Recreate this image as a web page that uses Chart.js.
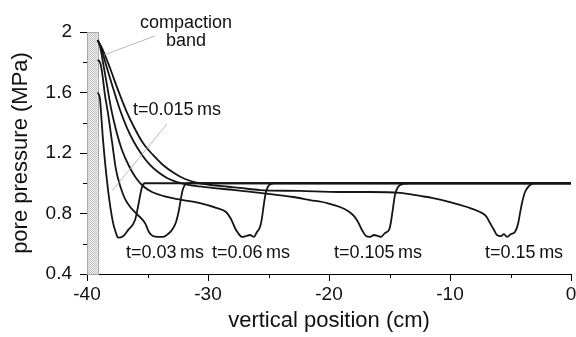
<!DOCTYPE html>
<html>
<head>
<meta charset="utf-8">
<script src="https://cdn.jsdelivr.net/npm/chart.js@4.4.1/dist/chart.umd.min.js"></script>
<style>
  html, body { margin: 0; padding: 0; background: #fff; }
  #chart { display: block; }
</style>
</head>
<body>
<canvas id="chart" width="576" height="337"></canvas>
<script>
// pore pressure profiles, [vertical position (cm), pressure (MPa)]
const t015 = [[-39.12,1.60],[-38.93,1.56],[-38.79,1.41],[-38.68,1.29],[-38.26,0.955],[-37.85,0.74],
    [-37.60,0.67],[-37.44,0.64],[-37.02,0.65],[-36.61,0.69],[-36.03,0.757],[-35.79,0.843],
    [-35.45,0.975],[-35.21,1.0],[-34.79,1.0],[0,1.0]];
const t030 = [[-39.12,1.815],[-38.93,1.80],[-38.76,1.736],[-38.51,1.58],[-38.26,1.46],[-37.93,1.273],
    [-37.60,1.088],[-37.27,0.985],[-36.86,0.896],[-36.36,0.836],[-35.79,0.79],[-35.21,0.737],
    [-34.88,0.678],[-34.55,0.651],[-34.13,0.645],[-33.72,0.645],[-33.31,0.664],[-32.98,0.691],
    [-32.64,0.744],[-32.40,0.823],[-32.23,0.902],[-32.07,0.962],[-31.82,0.995],[-31.49,1.0],[0,1.0]];
const t060 = [[-39.12,1.947],[-38.93,1.907],[-38.68,1.80],[-38.35,1.65],[-38.02,1.498],[-37.60,1.352],
    [-37.11,1.22],[-36.53,1.114],[-35.95,1.035],[-35.37,0.982],[-34.63,0.942],[-33.31,0.909],
    [-32.07,0.889],[-30.66,0.869],[-29.26,0.836],[-28.51,0.81],[-28.10,0.764],[-27.77,0.704],
    [-27.52,0.671],[-27.19,0.645],[-26.86,0.651],[-26.53,0.658],[-26.20,0.645],[-25.95,0.678],
    [-25.70,0.711],[-25.54,0.77],[-25.37,0.869],[-25.21,0.942],[-24.96,0.988],[-24.55,1.0],[0,1.0]];
const t105 = [[-39.12,1.947],[-38.84,1.894],[-38.35,1.762],[-37.85,1.63],[-37.27,1.484],[-36.69,1.365],
    [-36.12,1.273],[-35.45,1.187],[-34.79,1.121],[-34.13,1.074],[-33.39,1.035],[-32.56,1.008],
    [-31.49,0.988],[-30.25,0.975],[-27.77,0.955],[-25.70,0.936],[-22.98,0.909],[-21.57,0.889],
    [-20.17,0.869],[-19.09,0.843],[-18.43,0.817],[-17.93,0.783],[-17.60,0.744],[-17.27,0.691],
    [-16.94,0.651],[-16.61,0.645],[-16.28,0.658],[-15.95,0.651],[-15.70,0.645],[-15.37,0.671],
    [-15.04,0.691],[-14.88,0.744],[-14.71,0.836],[-14.55,0.922],[-14.30,0.975],[-13.88,0.995],
    [-13.31,1.0],[0,1.0]];
const t150 = [[-39.12,1.947],[-38.76,1.894],[-38.10,1.762],[-37.44,1.617],[-36.78,1.484],[-36.12,1.372],
    [-35.37,1.266],[-34.55,1.187],[-33.72,1.121],[-32.81,1.068],[-31.90,1.028],[-30.66,1.0],
    [-29.01,0.982],[-27.36,0.969],[-25.70,0.955],[-22.40,0.949],[-19.09,0.942],[-16.61,0.942],
    [-14.13,0.936],[-12.48,0.916],[-11.40,0.902],[-10.0,0.876],[-8.60,0.843],[-7.52,0.81],
    [-7.02,0.783],[-6.69,0.737],[-6.36,0.691],[-6.12,0.658],[-5.79,0.651],[-5.54,0.664],
    [-5.29,0.645],[-4.96,0.664],[-4.63,0.678],[-4.38,0.731],[-4.21,0.803],[-4.05,0.869],
    [-3.80,0.942],[-3.47,0.982],[-2.98,1.0],[0,1.0]];

// compaction band extent
const bandX = [-40, -39.12];
const bandTop = 2.0;

const xTicks = [-40, -30, -20, -10, 0];
const yTicks = [0.4, 0.8, 1.2, 1.6, 2];
const xMinor = [-35, -25, -15, -5];
const yMinor = [0.6, 1.0, 1.4, 1.8];

const FONT = '"Liberation Sans", Arial, Helvetica, sans-serif';

// text labels and leader lines, in data coordinates
const notes = [
    {text: 'compaction', x: -31.82, y: 2.06},
    {text: 'band', x: -31.82, y: 1.94},
    {text: 't=0.015\u2009ms', x: -32.56, y: 1.484},
    {text: 't=0.03\u2009ms', x: -33.55, y: 0.539},
    {text: 't=0.06\u2009ms', x: -26.45, y: 0.539},
    {text: 't=0.105\u2009ms', x: -15.95, y: 0.539},
    {text: 't=0.15\u2009ms', x: -3.88, y: 0.539}
];
const leaders = [
    [[-34.38, 1.974], [-38.6, 1.848]],
    [[-33.39, 1.392], [-37.93, 0.949]]
];

const toPts = (arr) => arr.map(p => ({x: p[0], y: p[1]}));

const bandPlugin = {
    id: 'band',
    beforeDatasetsDraw(chart) {
        const {ctx, scales: {x, y}} = chart;
        let l = x.getPixelForValue(bandX[0]);
        let r = x.getPixelForValue(bandX[1]);
        let t = y.getPixelForValue(bandTop);
        let b = y.getPixelForValue(y.min);
        let tile = document.createElement('canvas');
        tile.width = 2; tile.height = 2;
        let g = tile.getContext('2d');
        g.fillStyle = '#f3f3f3'; g.fillRect(0, 0, 2, 2);
        g.fillStyle = '#bdbdbd'; g.fillRect(0, 0, 1, 1); g.fillRect(1, 1, 1, 1);
        ctx.save();
        ctx.fillStyle = ctx.createPattern(tile, 'repeat');
        ctx.fillRect(l, t, r - l, b - t);
        ctx.strokeStyle = '#a8a8a8';
        ctx.lineWidth = 1;
        ctx.strokeRect(Math.round(l) + 0.5, Math.round(t) + 0.5, Math.round(r - l), Math.round(b - t));
        ctx.restore();
    }
};

const extrasPlugin = {
    id: 'extras',
    afterDraw(chart) {
        const {ctx, scales: {x, y}} = chart;
        ctx.save();
        // minor ticks
        ctx.strokeStyle = '#000';
        ctx.lineWidth = 1;
        ctx.beginPath();
        xMinor.forEach(v => {
            let px = Math.round(x.getPixelForValue(v)) + 0.5;
            ctx.moveTo(px, y.bottom);
            ctx.lineTo(px, y.bottom + 4);
        });
        yMinor.forEach(v => {
            let py = Math.round(y.getPixelForValue(v)) + 0.5;
            ctx.moveTo(x.left - 4, py);
            ctx.lineTo(x.left, py);
        });
        ctx.stroke();
        // leader lines
        ctx.strokeStyle = '#a8a8a8';
        ctx.lineWidth = 0.8;
        leaders.forEach(seg => {
            ctx.beginPath();
            ctx.moveTo(x.getPixelForValue(seg[0][0]), y.getPixelForValue(seg[0][1]));
            ctx.lineTo(x.getPixelForValue(seg[1][0]), y.getPixelForValue(seg[1][1]));
            ctx.stroke();
        });
        // labels
        ctx.fillStyle = '#111';
        ctx.font = '18px ' + FONT;
        ctx.textAlign = 'center';
        ctx.textBaseline = 'middle';
        notes.forEach(n => {
            ctx.fillText(n.text, x.getPixelForValue(n.x), y.getPixelForValue(n.y));
        });
        ctx.restore();
    }
};

document.addEventListener("DOMContentLoaded", function () {
    let ctx = document.getElementById('chart').getContext('2d');
    let series = [t015, t030, t060, t105, t150];
    let chart = new Chart(ctx, {
        type: 'scatter',
        data: {
            datasets: series.map(s => ({
                data: toPts(s),
                showLine: true,
                borderColor: '#151515',
                borderWidth: 1.8,
                pointRadius: 0,
                fill: false,
                cubicInterpolationMode: 'monotone'
            }))
        },
        options: {
            responsive: false,
            devicePixelRatio: 1,
            animation: false,
            layout: {padding: {top: 32, right: 5, bottom: 0, left: 0}},
            plugins: {legend: {display: false}, tooltip: {enabled: false}},
            scales: {
                x: {
                    type: 'linear',
                    min: -40, max: 0,
                    afterBuildTicks: (s) => { s.ticks = xTicks.map(v => ({value: v})); },
                    afterFit: (s) => { s.height = 63; s.paddingLeft = 0; s.paddingRight = 0; },
                    grid: {drawOnChartArea: false, tickLength: 7, tickColor: '#000'},
                    border: {color: '#000', width: 1},
                    ticks: {color: '#111', font: {family: FONT, size: 19}, padding: 2,
                        maxRotation: 0, callback: (v) => String(v)},
                    title: {display: true, text: 'vertical position (cm)', color: '#111',
                        font: {family: FONT, size: 22}, padding: {top: 0, bottom: 3}}
                },
                y: {
                    type: 'linear',
                    min: 0.4, max: 2,
                    afterBuildTicks: (s) => { s.ticks = yTicks.map(v => ({value: v})); },
                    afterFit: (s) => { s.width = 87; s.paddingTop = 0; s.paddingBottom = 0; },
                    grid: {drawOnChartArea: false, tickLength: 7, tickColor: '#000'},
                    border: {color: '#000', width: 1},
                    ticks: {color: '#111', font: {family: FONT, size: 19}, padding: 8,
                        callback: (v) => String(Number(v.toFixed(1)))},
                    title: {display: true, text: 'pore pressure (MPa)', color: '#111',
                        font: {family: FONT, size: 22}, padding: {top: 8, bottom: 0}}
                }
            }
        },
        plugins: [bandPlugin, extrasPlugin]
    });
});
</script>
</body>
</html>
